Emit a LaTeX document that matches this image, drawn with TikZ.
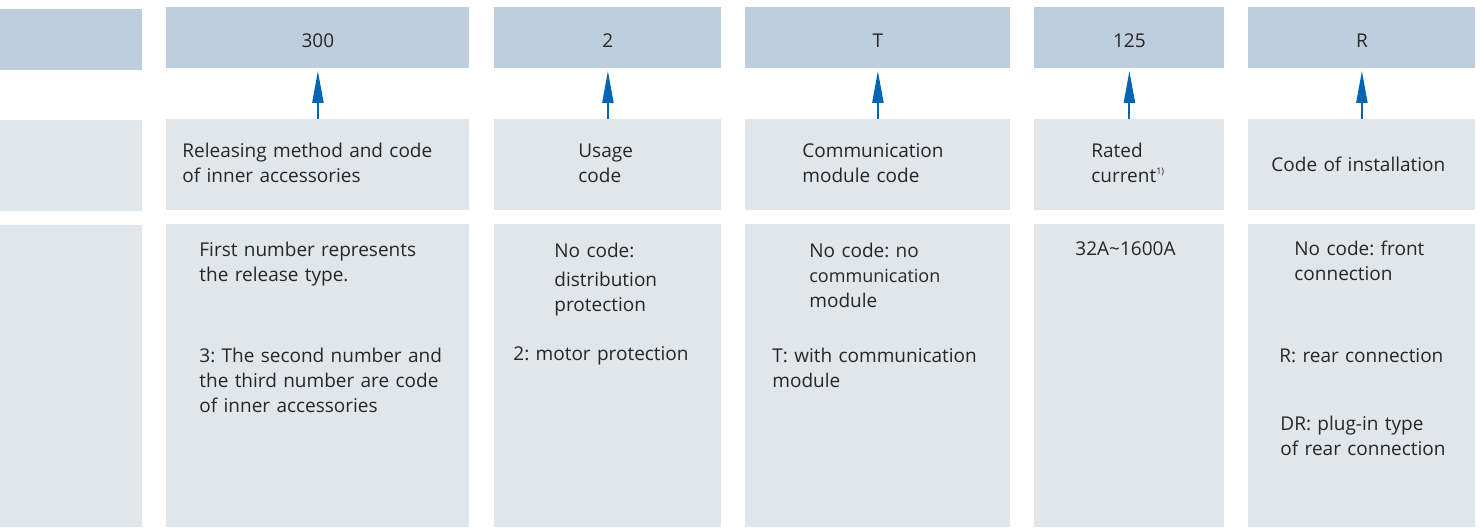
\documentclass[tikz,border=0pt]{standalone}
\usepackage{fontspec}
\setmainfont{Open Sans}
\usetikzlibrary{arrows.meta}
\frenchspacing
\definecolor{CodeBlue}{HTML}{BFCEDF}
\definecolor{CellGray}{HTML}{E1E6EB}
\definecolor{ArrowBlue}{HTML}{0066B3}
\definecolor{TextGray}{HTML}{262626}
\tikzset{
  codebox/.style={fill=CodeBlue, anchor=north west, inner sep=0pt, minimum height=30.5pt,
    text height=10pt, text depth=0pt, text=TextGray, font=\fontsize{9.5}{12.5}\selectfont},
  descbox/.style={fill=CellGray, anchor=north west, inner sep=0pt, minimum height=45.5pt},
  optbox/.style={fill=CellGray, anchor=north west, inner sep=0pt, minimum height=151.5pt},
  celltext/.style={anchor=base west, inner sep=0pt, text width=150pt, align=left,
    text=TextGray, font=\fontsize{9.5}{12.5}\selectfont},
  codearrow/.style={draw=ArrowBlue, line width=1pt, shorten >=1pt,
    -{Triangle[length=16pt,width=5.5pt]}},
}

\begin{document}
\begin{tikzpicture}[x=0.5pt, y=-0.5pt]
    \useasboundingbox (0,0) rectangle (1480,527);
    % code row
    \node[codebox, minimum width=71pt]    at (0,9)    (code0) {};
    \node[codebox, minimum width=151.5pt] at (166,7)  (code1) {300};
    \node[codebox, minimum width=113.5pt] at (494,7)  (code2) {2};
    \node[codebox, minimum width=132.5pt] at (745,7)  (code3) {T};
    \node[codebox, minimum width=95pt]    at (1034,7) (code4) {125};
    \node[codebox, minimum width=113.5pt] at (1248,7) (code5) {R};
    % meaning row
    \node[descbox, minimum width=71pt]    at (0,120)    (desc0) {};
    \node[descbox, minimum width=151.5pt] at (166,119)  (desc1) {};
    \node[descbox, minimum width=113.5pt] at (494,119)  (desc2) {};
    \node[descbox, minimum width=132.5pt] at (745,119)  (desc3) {};
    \node[descbox, minimum width=95pt]    at (1034,119) (desc4) {};
    \node[descbox, minimum width=113.5pt] at (1248,119) (desc5) {};
    % options row
    \node[optbox, minimum width=71pt, minimum height=151pt] at (0,225) (opt0) {};
    \node[optbox, minimum width=151.5pt] at (166,224)  (opt1) {};
    \node[optbox, minimum width=113.5pt] at (494,224)  (opt2) {};
    \node[optbox, minimum width=132.5pt] at (745,224)  (opt3) {};
    \node[optbox, minimum width=95pt]    at (1034,224) (opt4) {};
    \node[optbox, minimum width=113.5pt] at (1248,224) (opt5) {};
    % arrows
    \draw[codearrow] (desc1) -- (code1);
    \draw[codearrow] (desc2) -- (code2);
    \draw[codearrow] (desc3) -- (code3);
    \draw[codearrow] (desc4) -- (code4);
    \draw[codearrow] (desc5) -- (code5);
    % meaning texts
    \node[celltext] at (182,157)  (desc1txt) {Releasing method and code\\of inner accessories};
    \node[celltext] at (578,157)  (desc2txt) {Usage\\code};
    \node[celltext] at (802,157)  (desc3txt) {Communication\\module code};
    \node[celltext] at (1091,157) (desc4txt) {Rated\\current\raisebox{4pt}{\fontsize{4.5}{5}\selectfont 1)}};
    \node[celltext] at (1271,171) (desc5txt) {Code of installation};
    % option texts
    \node[celltext] at (199,256)  (opt1a) {First number represents\\the release type.};
    \node[celltext] at (199,362)  (opt1b) {3: The second number and\\the third number are code\\of inner accessories};
    \node[celltext] at (554,257)  (opt2a) {No code:};
    \node[celltext] at (554,286)  (opt2b) {distribution\\protection};
    \node[celltext] at (513,360)  (opt2c) {2: motor protection};
    \node[celltext] at (809,257)  (opt3a) {No code: no\\{\fontsize{9}{12}\selectfont communication}\\module};
    \node[celltext] at (772,362)  (opt3b) {T: with communication\\module};
    \node[celltext] at (1075,255) (opt4a) {32A\textasciitilde 1600A};
    \node[celltext] at (1294,255) (opt5a) {No code: front\\connection};
    \node[celltext] at (1279,362) (opt5b) {R: rear connection};
    \node[celltext] at (1280,430) (opt5c) {DR: plug-in type\\of rear connection};
  \end{tikzpicture}
\end{document}
